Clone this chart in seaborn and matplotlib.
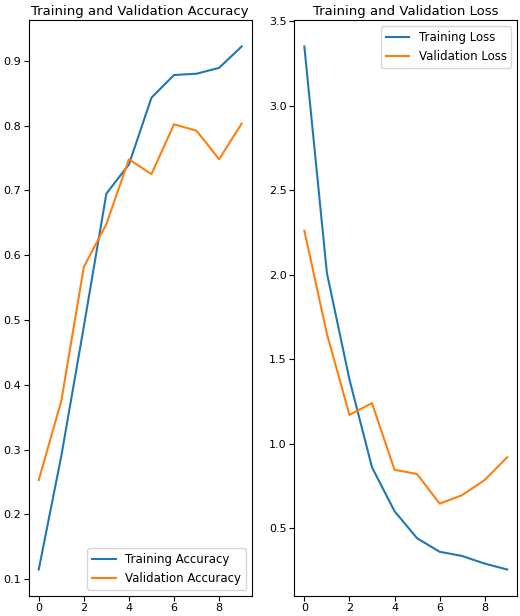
import matplotlib
matplotlib.use("Agg")
import matplotlib.pyplot as plt
import seaborn as sns

epochs = list(range(10))
train_acc = [0.115, 0.29, 0.49, 0.695, 0.74, 0.843, 0.878, 0.880, 0.889, 0.922]
val_acc = [0.253, 0.375, 0.582, 0.648, 0.748, 0.725, 0.802, 0.792, 0.748, 0.803]
train_loss = [3.35, 2.01, 1.38, 0.86, 0.60, 0.44, 0.36, 0.335, 0.29, 0.255]
val_loss = [2.26, 1.65, 1.17, 1.24, 0.845, 0.82, 0.645, 0.695, 0.785, 0.92]

plt.rcParams.update({"font.size": 8.5, "axes.titlesize": 9.5,
                     "xtick.labelsize": 8, "ytick.labelsize": 8, "legend.fontsize": 8.5})

fig, (ax1, ax2) = plt.subplots(1, 2, figsize=(5.2, 6.16), dpi=100)
fig.subplots_adjust(left=0.055, right=0.995, top=0.967, bottom=0.033, wspace=0.19)

sns.lineplot(x=epochs, y=train_acc, ax=ax1, label="Training Accuracy", color="#1f77b4")
sns.lineplot(x=epochs, y=val_acc, ax=ax1, label="Validation Accuracy", color="#ff7f0e")
ax1.legend(loc="lower right")
ax1.set_title("Training and Validation Accuracy", pad=4)
ax1.set_xticks([0, 2, 4, 6, 8])
ax1.tick_params(pad=2)

sns.lineplot(x=epochs, y=train_loss, ax=ax2, label="Training Loss", color="#1f77b4")
sns.lineplot(x=epochs, y=val_loss, ax=ax2, label="Validation Loss", color="#ff7f0e")
ax2.legend(loc="upper right")
ax2.set_title("Training and Validation Loss", pad=4)
ax2.set_xticks([0, 2, 4, 6, 8])
ax2.tick_params(pad=2)

fig.savefig("out.png")
